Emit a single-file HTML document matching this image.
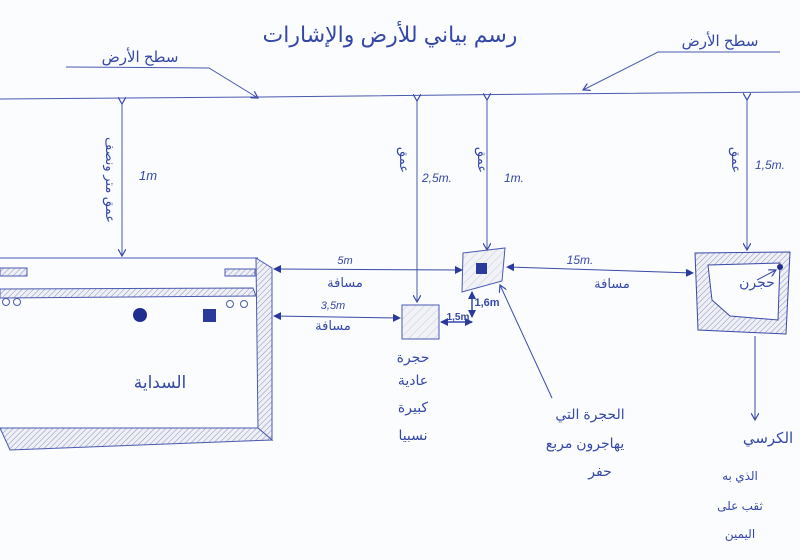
<!DOCTYPE html>
<html><head><meta charset="utf-8"><style>
html,body{margin:0;padding:0;background:#fbfcfe;}
svg{display:block}
text{font-family:"Liberation Sans","DejaVu Sans",sans-serif;fill:#3548a8;}
</style></head><body>
<svg width="800" height="560" viewBox="0 0 800 560" xmlns="http://www.w3.org/2000/svg">
<defs>
<pattern id="h" width="4" height="4" patternUnits="userSpaceOnUse" patternTransform="rotate(45)">
<rect width="4" height="4" fill="#eef0f6"/><line x1="0" y1="0" x2="0" y2="4" stroke="#8a93bd" stroke-width="1"/></pattern>
<pattern id="hl" width="6" height="6" patternUnits="userSpaceOnUse" patternTransform="rotate(45)">
<rect width="6" height="6" fill="#f1f2f6"/><line x1="0" y1="0" x2="0" y2="6" stroke="#c9cde0" stroke-width="1"/></pattern>
<marker id="a" markerWidth="8" markerHeight="8" refX="7" refY="4" orient="auto" markerUnits="userSpaceOnUse"><path d="M0,0 L7,4 L0,8" fill="none" stroke="#3a4aa8" stroke-width="1.2"/></marker>
<marker id="f" markerWidth="8" markerHeight="8" refX="7" refY="4" orient="auto-start-reverse" markerUnits="userSpaceOnUse"><path d="M0,0 L8,4 L0,8z" fill="#2a3a9a"/></marker>
</defs>
<g stroke="#4a5ab0" stroke-width="1" fill="none">
<!-- surface -->
<path d="M0,99 L260,97 L545,94 L800,92"/>
<path d="M66,67 L209,68 L258,98" marker-end="url(#a)"/>
<path d="M780,52 L658,52 L583,90" marker-end="url(#a)"/>
<!-- verticals -->
<line x1="122" y1="104" x2="122" y2="256" marker-start="url(#a)" marker-end="url(#a)"/>
<line x1="417" y1="101" x2="417" y2="302" marker-start="url(#a)" marker-end="url(#a)"/>
<line x1="487" y1="100" x2="487" y2="250" marker-start="url(#a)" marker-end="url(#a)"/>
<line x1="747" y1="100" x2="747" y2="250" marker-start="url(#a)" marker-end="url(#a)"/>
<!-- big box -->
<path d="M0,258 L258,258"/>
<rect x="0" y="268" width="27" height="8" fill="url(#h)"/>
<rect x="225" y="269" width="30" height="7" fill="url(#h)"/>
<path d="M0,289 L253,288 L256,296 L0,298z" fill="url(#h)"/>
<path d="M256,258 L272,268 L272,440 L258,428z" fill="url(#h)"/>
<path d="M0,428 L258,428 L272,440 L10,450z" fill="url(#h)"/>
<circle cx="6" cy="302" r="3.5"/><circle cx="17" cy="302" r="3.5"/>
<circle cx="230" cy="304" r="3.5"/><circle cx="244" cy="304" r="3.5"/>
</g>
<circle cx="140" cy="315" r="7" fill="#1f2f8f"/>
<rect x="203" y="309" width="13" height="13" fill="#2a3a9a"/>
<!-- small box -->
<rect x="402" y="305" width="37" height="34" fill="url(#hl)" stroke="#4a5ab0"/>
<!-- quad box -->
<path d="M463,253 L505,248 L502,281 L462,292z" fill="url(#hl)" stroke="#4a5ab0"/>
<rect x="476" y="263" width="11" height="11" fill="#2a3a9a"/>
<!-- right box -->
<path d="M695,253 L790,252 L786,334 L698,330z" fill="url(#h)" stroke="#3a4aa8"/>
<path d="M708,265 L780,263 L778,320 L730,316 L712,300z" fill="#fbfcfe" stroke="#3a4aa8"/>
<circle cx="780" cy="267" r="3" fill="#1f2f8f"/>
<g stroke="#3a4aa8" stroke-width="1" fill="none">
<line x1="274" y1="269" x2="462" y2="270" marker-start="url(#f)" marker-end="url(#f)"/>
<line x1="274" y1="316" x2="400" y2="318" marker-start="url(#f)" marker-end="url(#f)"/>
<line x1="507" y1="267" x2="693" y2="273" marker-start="url(#f)" marker-end="url(#f)"/>
<line x1="441" y1="322" x2="472" y2="322" marker-start="url(#f)" marker-end="url(#f)" stroke-width="1.5"/>
<line x1="472" y1="292" x2="472" y2="317" marker-start="url(#f)" marker-end="url(#f)" stroke-width="1.5"/>
<line x1="552" y1="398" x2="500" y2="285" marker-end="url(#a)"/>
<line x1="755" y1="336" x2="755" y2="420" marker-end="url(#a)"/>
<path d="M757,280 L776,270" marker-end="url(#a)"/>
</g>
<g font-size="14" text-anchor="middle">
<text x="390" y="42" font-size="22">رسم بياني للأرض والإشارات</text>
<text x="140" y="62" font-size="15">سطح الأرض</text>
<text x="720" y="46" font-size="15">سطح الأرض</text>
<text x="148" y="180" font-size="13" font-style="italic">1m</text>
<text x="437" y="182" font-size="12" font-style="italic">2,5m.</text>
<text x="514" y="182" font-size="12" font-style="italic">1m.</text>
<text x="770" y="169" font-size="12" font-style="italic">1,5m.</text>
<text transform="translate(106,180) rotate(90)" font-size="13">عمق متر ونصف</text>
<text transform="translate(400,160) rotate(90)" font-size="13">عمق</text>
<text transform="translate(478,160) rotate(90)" font-size="13">عمق</text>
<text transform="translate(732,160) rotate(90)" font-size="13">عمق</text>
<text x="345" y="264" font-size="11" font-style="italic">5m</text>
<text x="345" y="287" font-size="13">مسافة</text>
<text x="333" y="309" font-size="11" font-style="italic">3,5m</text>
<text x="333" y="330" font-size="13">مسافة</text>
<text x="580" y="264" font-size="12" font-style="italic">15m.</text>
<text x="612" y="288" font-size="13">مسافة</text>
<text x="458" y="320" font-size="10" font-weight="bold">1,5m</text>
<text x="487" y="306" font-size="11" font-weight="bold">1,6m</text>
<text x="160" y="388" font-size="17">السداية</text>
<text x="413" y="362" font-size="14">حجرة</text>
<text x="413" y="385" font-size="14">عادية</text>
<text x="413" y="412" font-size="14">كبيرة</text>
<text x="413" y="440" font-size="14">نسبيا</text>
<text x="757" y="287" font-size="14">حجرن</text>
<text x="590" y="419" font-size="14">الحجرة التي</text>
<text x="585" y="448" font-size="14">يهاجرون مربع</text>
<text x="600" y="476" font-size="14">حفر</text>
<text x="768" y="443" font-size="15">الكرسي</text>
<text x="740" y="480" font-size="12">الذي به</text>
<text x="740" y="510" font-size="12">ثقب على</text>
<text x="740" y="538" font-size="12">اليمين</text>
</g>
</svg>
</body></html>
